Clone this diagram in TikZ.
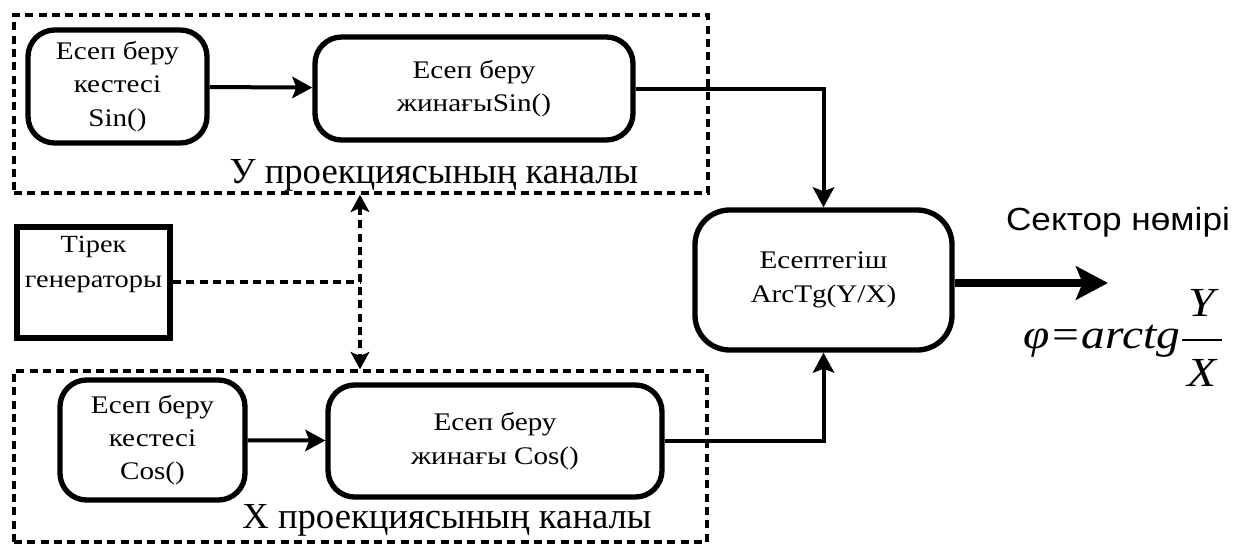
\documentclass[tikz,border=0pt]{standalone}
\usepackage{amsmath}
\usepackage{fontspec}
\setmainfont{Liberation Serif}[FakeStretch=1.15]
\newfontfamily\labelfont{Liberation Serif}
\newfontfamily\sectorfont{Liberation Sans}[FakeStretch=1.1]
\usetikzlibrary{arrows.meta,positioning}
\tikzset{proc/.style={draw,line width=4pt,rounded corners=20pt,align=center,inner sep=2pt,font=\fontsize{19}{25}\selectfont},chan/.style={draw,line width=2.5pt,dash pattern=on 6pt off 4pt},genbox/.style={draw,line width=4.5pt,minimum width=114.75pt,minimum height=83.25pt},flow/.style={-{Stealth[length=15pt,width=16pt,inset=3pt]},line width=3pt},tap/.style={line width=2.5pt,dash pattern=on 6pt off 4pt},chanlabel/.style={font=\labelfont\fontsize{27.5}{32}\selectfont,anchor=base}}

\begin{document}
\begin{tikzpicture}[x=0.75pt,y=-0.75pt]
  \useasboundingbox (0,0) rectangle (1234,546);
  % channels
  \node[chan,minimum width=520.5pt,minimum height=133.5pt](ych) at (361,104){};
  \node[chan,minimum width=519.75pt,minimum height=128.25pt](xch) at (360.5,456.5){};
  \node[chanlabel](ylab) at (434,183){У проекциясының каналы};
  \node[chanlabel](xlab) at (447,528){X проекциясының каналы};
  % blocks
  \node[proc,minimum width=134.25pt,minimum height=84.75pt](sintab) at (117.5,86.5){Есеп беру\\кестесі\\Sin()};
  \node[proc,minimum width=238.5pt,minimum height=77.25pt](sinacc) at (474,88.5){Есеп беру\\жинағыSin()};
  \node[proc,minimum width=138.75pt,minimum height=90pt](costab) at (152.5,440){Есеп беру\\кестесі\\Cos()};
  \node[proc,minimum width=250.5pt,minimum height=84pt](cosacc) at (495,441){Есеп беру\\жинағы Cos()};
  \node[proc,rounded corners=26pt,minimum width=192.75pt,minimum height=105pt](arctg) at (823.5,280){Есептегіш\\ArcTg(Y/X)};
  \node[genbox](gen) at (93.5,282.5){};
  \node[align=center,inner sep=0pt,font=\fontsize{18.5}{26}\selectfont](gentext) at (93.5,264.5){Тірек\\генераторы};
  % output
  \coordinate (out) at (1108,283);
  \node[font=\sectorfont\fontsize{24}{28}\selectfont,anchor=base](sector) at (1118,230){Сектор нөмірі};
  \node[anchor=base west,inner sep=0pt,font=\fontsize{31}{36}\selectfont](phi) at (1023,348){$\displaystyle\textit{φ=arctg}\genfrac{}{}{1.5pt}{0}{\hspace{5pt}\textit{Y}\rule[-12pt]{0pt}{12pt}\hspace{5pt}}{\rule{0pt}{30pt}\textit{X}}$};
  % connectors
  \draw[flow](sintab)--(sinacc);
  \draw[flow](costab)--(cosacc);
  \draw[flow](sinacc.east)-|(arctg.north);
  \draw[flow](cosacc.east)-|(arctg.south);
  \draw[-{Stealth[length=24pt,width=25pt,inset=5pt]},line width=5.5pt](arctg.east|-out)--(out);
  \coordinate (tap) at (360,282);
  \draw[tap](gen.east|-tap)--(tap);
  \draw[tap,{Stealth[length=13pt,width=14pt,inset=3pt]}-{Stealth[length=13pt,width=14pt,inset=3pt]}](tap|-ych.south)--(tap|-xch.north);
\end{tikzpicture}
\end{document}
